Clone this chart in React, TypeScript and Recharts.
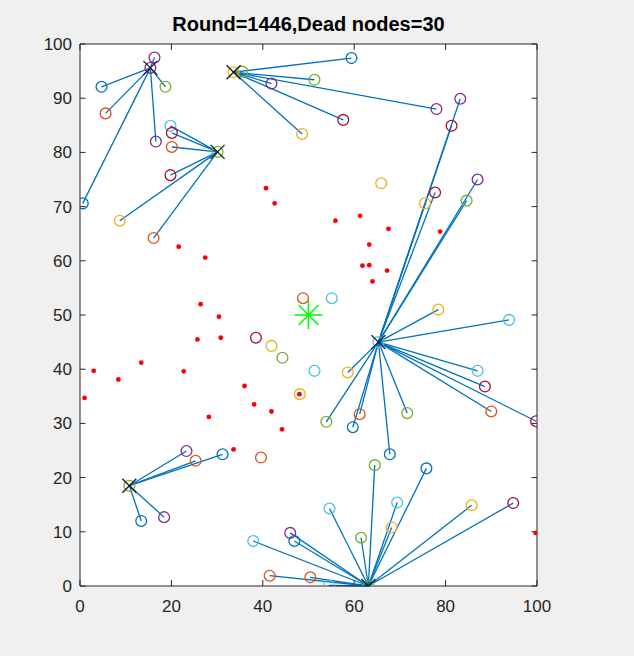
import React from 'react';
import {
  ScatterChart, Scatter, XAxis, YAxis, ReferenceLine,
} from 'recharts';

// ── Data: cluster heads, alive nodes grouped by marker colour, dead nodes ──
// each node: [x, y, clusterHeadIndex] (-1 = not linked to a head)
const clusterHeads: [number, number][] = [
  [15.4, 95.6], [33.6, 94.8], [30.1, 80.1], [65.3, 45.0], [10.8, 18.5], [63.1, 0],
];

const blueNodes: [number, number, number][] = [
  [4.7, 92.1, 0], [0.6, 70.6, 0], [59.4, 97.4, 1], [31.2, 24.3, 4], [13.4, 12.0, 4],
  [46.9, 8.3, 5], [75.8, 21.7, 5], [67.8, 24.3, 3], [59.7, 29.3, 3],
];
const orangeNodes: [number, number, number][] = [
  [5.6, 87.2, 0], [20.1, 81.0, 2], [16.1, 64.2, 2], [48.8, 53.1, -1], [61.2, 31.7, 3],
  [90.0, 32.2, 3], [25.3, 23.1, 4], [39.6, 23.7, -1], [41.5, 1.9, 5], [50.4, 1.6, 5],
];
const yellowNodes: [number, number, number][] = [
  [33.6, 94.8, -1], [48.6, 83.4, 1], [8.7, 67.4, 2], [65.9, 74.3, -1], [75.5, 70.6, 3],
  [78.4, 51.0, 3], [58.6, 39.4, 3], [41.9, 44.3, -1], [48.1, 35.4, -1], [68.2, 10.8, 5],
  [85.7, 14.9, 5],
];
const purpleNodes: [number, number, number][] = [
  [16.3, 97.5, 0], [15.4, 95.6, -1], [16.6, 82.0, 0], [41.9, 92.7, 1], [78.0, 88.0, 1],
  [83.2, 89.9, 3], [87.0, 75.0, 3], [23.3, 24.9, 4], [18.4, 12.7, 4], [46.0, 9.8, 5],
];
const greenNodes: [number, number, number][] = [
  [18.7, 92.1, 0], [35.5, 94.9, 1], [30.1, 80.1, -1], [51.3, 93.4, 1], [84.6, 71.1, 3],
  [44.3, 42.1, -1], [53.9, 30.3, 3], [71.6, 31.9, 3], [10.8, 18.5, -1], [61.5, 8.9, 5],
  [64.5, 22.3, 5], [63.1, 0, -1],
];
const cyanNodes: [number, number, number][] = [
  [19.8, 84.9, 2], [55.1, 53.1, -1], [51.3, 39.7, -1], [93.9, 49.1, 3], [87.0, 39.7, 3],
  [65.3, 45.0, -1], [37.9, 8.3, 5], [54.6, 14.3, 5], [54.5, 0.1, 5], [69.4, 15.4, 5],
];
const darkRedNodes: [number, number, number][] = [
  [20.1, 83.6, 2], [19.8, 75.8, 2], [57.6, 86.0, 1], [81.3, 84.9, 3], [77.7, 72.6, 3],
  [38.5, 45.8, -1], [88.6, 36.8, 3], [99.8, 30.4, 3], [94.8, 15.3, 5],
];

const deadNodes: [number, number][] = [
  [21.6, 62.6], [27.4, 60.6], [26.4, 52.0], [30.4, 49.7], [25.7, 45.5], [30.8, 45.8],
  [3.0, 39.7], [13.4, 41.2], [22.7, 39.6], [8.4, 38.1], [1.0, 34.7], [36.0, 36.9],
  [38.1, 33.5], [41.9, 32.2], [48.0, 35.4], [28.2, 31.2], [44.2, 28.9], [33.6, 25.2],
  [40.7, 73.4], [42.6, 70.6], [55.9, 67.4], [61.3, 68.3], [67.5, 65.9], [78.8, 65.4],
  [63.3, 63.0], [61.8, 59.1], [63.3, 59.2], [67.2, 58.2], [64.0, 56.2], [99.7, 9.8],
];

const sink: [number, number] = [50, 50];

const xTicks = [0, 20, 40, 60, 80, 100];
const yTicks = [0, 10, 20, 30, 40, 50, 60, 70, 80, 90, 100];

const title = 'Round=1446,Dead nodes=30';

// MATLAB default colour order
const groups = [
  { nodes: blueNodes, color: '#0072BD' },
  { nodes: orangeNodes, color: '#D95319' },
  { nodes: yellowNodes, color: '#EDB120' },
  { nodes: purpleNodes, color: '#7E2F8E' },
  { nodes: greenNodes, color: '#77AC30' },
  { nodes: cyanNodes, color: '#4DBEEE' },
  { nodes: darkRedNodes, color: '#A2142F' },
];

const AXIS = '#262626';
const FONT = '"Liberation Sans", Arial, Helvetica, sans-serif';
const tickStyle = { fill: AXIS, fontSize: 17, fontFamily: FONT };

const toPts = (arr: number[][]) => arr.map(([x, y]) => ({ x, y }));

const ringShape = (color: string) => ({ cx, cy }: any) => (
  <circle cx={cx} cy={cy} r={5.4} fill="none" stroke={color} strokeWidth={1.3} />
);

const crossShape = ({ cx, cy }: any) => (
  <g stroke="#1a1a1a" strokeWidth={1.3}>
    <line x1={cx - 7} y1={cy - 7} x2={cx + 7} y2={cy + 7} />
    <line x1={cx - 7} y1={cy + 7} x2={cx + 7} y2={cy - 7} />
  </g>
);

const dotShape = ({ cx, cy }: any) => <circle cx={cx} cy={cy} r={2.4} fill="#FF0000" />;

const starShape = ({ cx, cy }: any) => {
  const r = 14;
  const d = 10;
  return (
    <g stroke="#00FF00" strokeWidth={1.6}>
      <line x1={cx - r} y1={cy} x2={cx + r} y2={cy} />
      <line x1={cx} y1={cy - r} x2={cx} y2={cy + r} />
      <line x1={cx - d} y1={cy - d} x2={cx + d} y2={cy + d} />
      <line x1={cx - d} y1={cy + d} x2={cx + d} y2={cy - d} />
    </g>
  );
};

export default function App() {
  const links = groups.flatMap((g) =>
    g.nodes.filter((n) => n[2] >= 0).map((n) => ({ head: clusterHeads[n[2]], x: n[0], y: n[1] })),
  );

  return (
    <div style={{ position: 'absolute', left: 0, top: 0, width: 634, height: 656, background: '#F0F0F0' }}>
      <div style={{
        position: 'absolute', left: 80, width: 457, top: 13, textAlign: 'center',
        fontFamily: FONT, fontWeight: 'bold', fontSize: 20, color: '#000',
      }}>
        {title}
      </div>
      <ScatterChart
        width={634}
        height={656}
        margin={{ top: 44, right: 97, bottom: 40, left: 40 }}
      >
        <rect x={80} y={44} width={457} height={542} fill="#FFFFFF" />
        <XAxis
          type="number" dataKey="x" domain={[0, 100]} ticks={xTicks}
          allowDataOverflow height={30}
          axisLine={{ stroke: AXIS }} tickLine={false} tickSize={0} tickMargin={14}
          tick={tickStyle}
        />
        <YAxis
          type="number" dataKey="y" domain={[0, 100]} ticks={yTicks}
          allowDataOverflow width={40}
          axisLine={{ stroke: AXIS }} tickLine={false} tickSize={0} tickMargin={8}
          tick={tickStyle}
        />

        {/* box + inward ticks */}
        <ReferenceLine y={100} stroke={AXIS} ifOverflow="visible" />
        <ReferenceLine x={100} stroke={AXIS} ifOverflow="visible" />
        {xTicks.map((t) => (
          <ReferenceLine key={`xb${t}`} segment={[{ x: t, y: 0 }, { x: t, y: 1.1 }]} stroke={AXIS} ifOverflow="visible" />
        ))}
        {xTicks.map((t) => (
          <ReferenceLine key={`xt${t}`} segment={[{ x: t, y: 100 }, { x: t, y: 98.9 }]} stroke={AXIS} ifOverflow="visible" />
        ))}
        {yTicks.map((t) => (
          <ReferenceLine key={`yl${t}`} segment={[{ x: 0, y: t }, { x: 1.2, y: t }]} stroke={AXIS} ifOverflow="visible" />
        ))}
        {yTicks.map((t) => (
          <ReferenceLine key={`yr${t}`} segment={[{ x: 100, y: t }, { x: 98.8, y: t }]} stroke={AXIS} ifOverflow="visible" />
        ))}

        {/* member -> cluster head links */}
        {links.map((l, i) => (
          <ReferenceLine
            key={`ln${i}`}
            segment={[{ x: l.head[0], y: l.head[1] }, { x: l.x, y: l.y }]}
            stroke="#0072BD" strokeWidth={1.3} ifOverflow="visible"
          />
        ))}

        {groups.map((g, i) => (
          <Scatter key={`g${i}`} data={toPts(g.nodes)} shape={ringShape(g.color)} isAnimationActive={false} />
        ))}
        <Scatter data={toPts(deadNodes)} shape={dotShape} isAnimationActive={false} />
        <Scatter data={toPts(clusterHeads)} shape={crossShape} isAnimationActive={false} />
        <Scatter data={toPts([sink])} shape={starShape} isAnimationActive={false} />
      </ScatterChart>
    </div>
  );
}
